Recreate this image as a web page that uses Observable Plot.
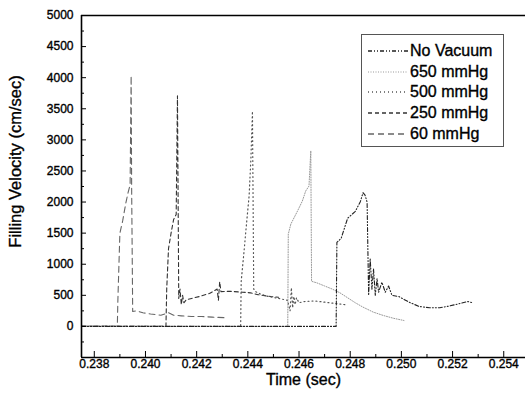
<!DOCTYPE html>
<html><head><meta charset="utf-8">
<script src="https://cdn.jsdelivr.net/npm/d3@7"></script>
<script src="https://cdn.jsdelivr.net/npm/@observablehq/plot@0.6"></script>
<style>
html,body{margin:0;padding:0;background:#fff;}
#wrap{position:relative;width:525px;height:408px;overflow:hidden;font-family:"Liberation Sans",Arial,sans-serif;}
#wrap svg text{stroke:#000;stroke-width:0.35px;}
#legend{position:absolute;left:361px;top:34px;width:143px;height:113px;border:1.5px solid #555;background:#fff;box-sizing:border-box;}
.row{position:absolute;left:0;height:20px;display:flex;align-items:center;font-size:16px;color:#000;white-space:pre;-webkit-text-stroke:0.35px #000;}
.row svg{margin-left:6px;margin-right:2px;}
</style></head><body><div id="wrap"></div>
<script>
// Tick values
const xMajor = [0.238, 0.240, 0.242, 0.244, 0.246, 0.248, 0.250, 0.252, 0.254];
const xMinor = [0.239, 0.241, 0.243, 0.245, 0.247, 0.249, 0.251, 0.253];
const yMajor = [0, 500, 1000, 1500, 2000, 2500, 3000, 3500, 4000, 4500, 5000];
const yMinor = [-250, 250, 750, 1250, 1750, 2250, 2750, 3250, 3750, 4250, 4750];

// Series names (legend order)
const seriesNames = ["No Vacuum", "650 mmHg", "500 mmHg", "250 mmHg", "60 mmHg"];

// No Vacuum
const tNoVac = [0.2375, 0.24745, 0.24748, 0.24765, 0.2479, 0.2482, 0.2484, 0.24850, 0.24858, 0.24866, 0.24872, 0.24878, 0.24885, 0.24891, 0.24898, 0.24905, 0.24911, 0.24924, 0.24937, 0.2495, 0.24963, 0.2499, 0.2503, 0.2507, 0.2511, 0.2515, 0.2519, 0.2523, 0.2526, 0.2528];
const vNoVac = [0, 0, 1350, 1420, 1740, 1850, 2010, 2150, 2110, 2000, 500, 1090, 600, 930, 500, 770, 550, 710, 550, 650, 500, 480, 390, 320, 300, 300, 330, 370, 400, 380];

// 650 mmHg
const t650 = [0.2375, 0.24556, 0.24558, 0.24568, 0.24594, 0.24613, 0.24626, 0.24639, 0.24646, 0.24649, 0.2467, 0.2470, 0.2473, 0.2476, 0.2479, 0.2482, 0.2485, 0.2489, 0.2493, 0.2497, 0.2501];
const v650 = [0, 0, 1484, 1645, 1855, 2016, 2177, 2258, 2823, 725, 700, 650, 600, 540, 460, 380, 310, 230, 175, 130, 95];

// 500 mmHg
const t500 = [0.2375, 0.24372, 0.24374, 0.24385, 0.24395, 0.24405, 0.24412, 0.24418, 0.24423, 0.2443, 0.2445, 0.2448, 0.2452, 0.24555, 0.24565, 0.2457, 0.24575, 0.2458, 0.24585, 0.2459, 0.2460, 0.2462, 0.2466, 0.2470, 0.2474, 0.2478];
const v500 = [0, 0, 725, 1200, 1660, 2100, 2700, 3460, 600, 560, 520, 480, 450, 420, 250, 620, 300, 480, 350, 460, 380, 400, 410, 390, 370, 350];

// 250 mmHg
const t250 = [0.2375, 0.24080, 0.24083, 0.24090, 0.24100, 0.24110, 0.24120, 0.24125, 0.24130, 0.24135, 0.2414, 0.24145, 0.2415, 0.2416, 0.2418, 0.2421, 0.2425, 0.2428, 0.24285, 0.2429, 0.24295, 0.2433, 0.2438, 0.2441, 0.2444, 0.2449, 0.2452];
const v250 = [0, 0, 600, 1250, 1500, 1720, 1800, 3710, 450, 600, 350, 500, 380, 430, 450, 480, 530, 600, 420, 720, 560, 565, 550, 540, 510, 480, 470];

// 60 mmHg
const t60 = [0.2375, 0.2389, 0.23892, 0.23900, 0.23911, 0.23923, 0.23932, 0.23940, 0.23944, 0.23946, 0.23950, 0.23965, 0.2399, 0.2402, 0.2406, 0.2409, 0.2411, 0.2414, 0.2418, 0.2422, 0.2426, 0.2431];
const v60 = [0, 0, 400, 1500, 1700, 1980, 2150, 2280, 4030, 2200, 240, 250, 220, 200, 180, 220, 180, 170, 160, 160, 150, 140];

// Styles
const strokes = ["#222", "#999", "#555", "#333", "#666"];
const dashes = ["4,2,1,2,1,2", "1,1.5", "1,3", "4,3", "6,4"];
const widths = [1.1, 1, 1.2, 1.1, 1.1];

const tArr = [tNoVac, t650, t500, t250, t60];
const vArr = [vNoVac, v650, v500, v250, v60];
const series = seriesNames.map((name, i) => ({
  name,
  data: tArr[i].map((t, j) => ({t, v: vArr[i][j]})),
  stroke: strokes[i], dash: dashes[i], width: widths[i]
}));

const lineMarks = series.slice().reverse().map(s =>
  Plot.line(s.data, {x: "t", y: "v", stroke: s.stroke, strokeWidth: s.width, strokeDasharray: s.dash}));

const chart = Plot.plot({
  width: 525, height: 408,
  marginLeft: 81, marginRight: 0, marginTop: 15, marginBottom: 51,
  x: {domain: [0.2375, 0.25485]},
  y: {domain: [-500, 5000]},
  style: {fontFamily: "'Liberation Sans', Arial, sans-serif", fontSize: "12px", color: "#000", background: "#fff"},
  marks: [
    ...lineMarks,
    Plot.ruleY([5000], {stroke: "#000", strokeWidth: 1.6}),
    Plot.ruleY([-500], {stroke: "#000", strokeWidth: 1.6}),
    Plot.ruleX([0.2375], {stroke: "#000", strokeWidth: 1.6}),
    Plot.axisX({ticks: xMajor, tickSize: -6, tickPadding: 8, tickFormat: d3.format(".3f"), label: null}),
    Plot.axisX({ticks: xMinor, tickSize: -3, tickFormat: () => "", label: null}),
    Plot.axisY({ticks: yMajor, tickSize: -5, tickPadding: 13, tickFormat: d => String(d), label: null}),
    Plot.axisY({ticks: yMinor, tickSize: -3, tickFormat: () => "", label: null}),
    Plot.text(["Time (sec)"], {text: d => d, frameAnchor: "bottom", lineAnchor: "middle", textAnchor: "middle", dy: 22, fontSize: 16}),
    Plot.text(["Filling Velocity (cm/sec)"], {text: d => d, frameAnchor: "left", textAnchor: "middle", lineAnchor: "middle", rotate: -90, dx: -66, dy: -25, fontSize: 16.5})
  ]
});

const wrap = document.getElementById("wrap");
wrap.appendChild(chart);

// Legend
const legend = d3.select(wrap).append("div").attr("id", "legend");
series.forEach((s, i) => {
  const row = legend.append("div").attr("class", "row").style("top", (6 + i * 20.7) + "px");
  const sv = row.append("svg").attr("width", 40).attr("height", 10);
  sv.append("line").attr("x1", 0).attr("x2", 40).attr("y1", 5).attr("y2", 5)
    .attr("stroke", s.stroke).attr("stroke-width", s.width + 0.2).attr("stroke-dasharray", s.dash);
  row.append("span").text(s.name);
});
</script>
</body></html>
